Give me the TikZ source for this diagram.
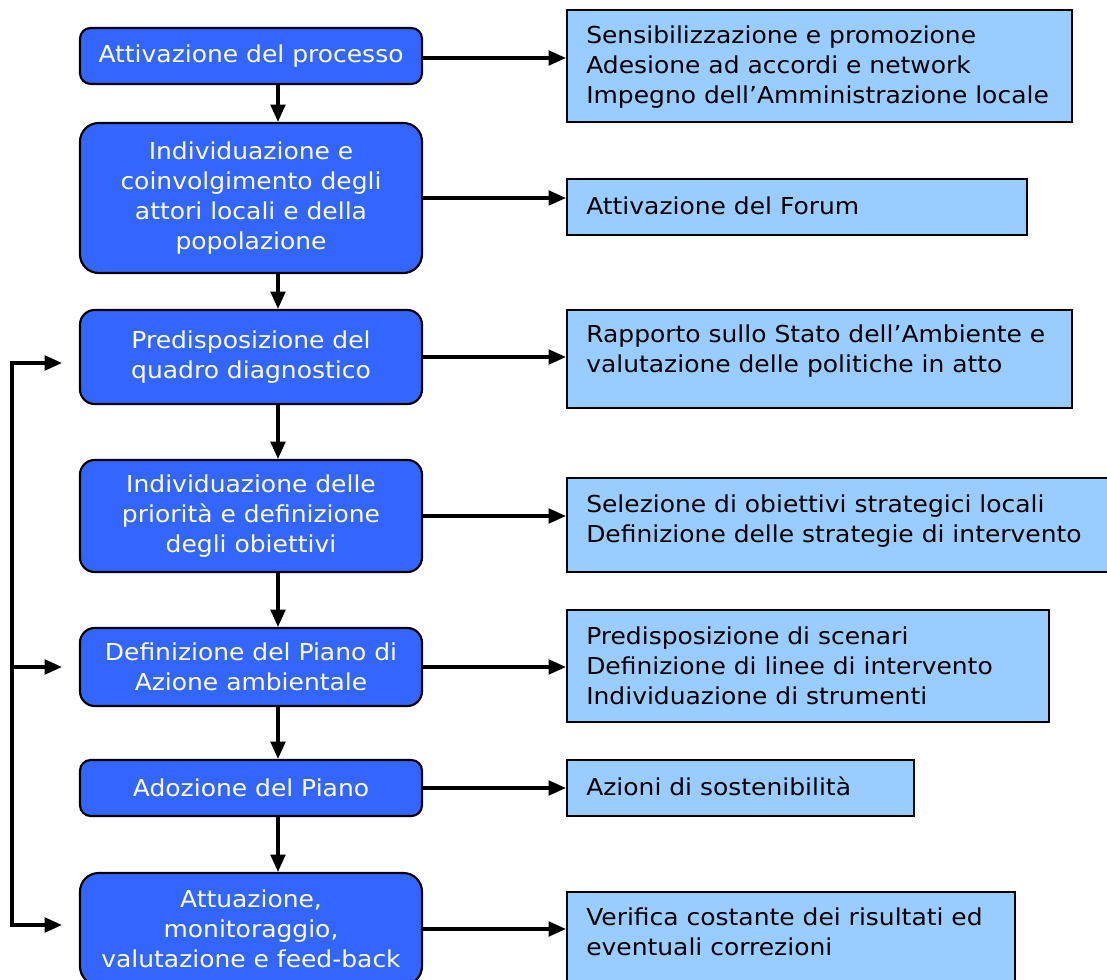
\documentclass[tikz,border=0pt]{standalone}
\usepackage{fontspec}
\setmainfont{DejaVu Sans}[FakeStretch=1.07]
\usetikzlibrary{arrows.meta}
\definecolor{dblue}{RGB}{51,102,255}
\definecolor{lblue}{RGB}{153,204,255}
\begin{document}
\begin{tikzpicture}[x=0.75pt,y=-0.75pt,
  txt/.style={font=\fontsize{17.5}{22.5}\selectfont},
  stepbox/.style={txt, draw=black, line width=1.6pt, fill=dblue, text=white, align=center,
    inner sep=0pt, minimum width=342*0.75pt, rounded corners=11pt},
  infobox/.style={draw=black, line width=1.6pt, fill=lblue, inner sep=0pt},
  infotext/.style={txt, anchor=west, align=left, inner sep=0pt, text=black},
  arr/.style={line width=2.4pt, -{Triangle[length=13pt,width=11pt]}},
  ln/.style={line width=2.4pt}]
\useasboundingbox (0,0) rectangle (1107,980);
\clip (0,0) rectangle (1107,980);
\fill[white] (0,0) rectangle (1107,980);

% left process boxes
\node[stepbox, minimum height=56*0.75pt, rounded corners=8pt] (p1) at (251,56) {Attivazione del processo};
\node[stepbox, minimum height=150*0.75pt, rounded corners=14pt] (p2) at (251,198) {Individuazione e\\coinvolgimento degli\\attori locali e della\\popolazione};
\node[stepbox, minimum height=94*0.75pt] (p3) at (251,357) {Predisposizione del\\quadro diagnostico};
\node[stepbox, minimum height=112*0.75pt] (p4) at (251,516) {Individuazione delle\\priorità e definizione\\degli obiettivi};
\node[stepbox, minimum height=78*0.75pt] (p5) at (251,667) {Definizione del Piano di\\Azione ambientale};
\node[stepbox, minimum height=56*0.75pt, rounded corners=8pt] (p6) at (251,788) {Adozione del Piano};
\node[stepbox, minimum height=112*0.75pt, rounded corners=14pt] (p7) at (251,929) {Attuazione,\\monitoraggio,\\valutazione e feed-back};

% right info boxes
\node[infobox, minimum width=505*0.75pt, minimum height=112*0.75pt] (r1) at (819.5,66) {};
\node[infobox, minimum width=460*0.75pt, minimum height=56*0.75pt] (r2) at (797,207) {};
\node[infobox, minimum width=505*0.75pt, minimum height=98*0.75pt] (r3) at (819.5,359) {};
\node[infobox, minimum width=560*0.75pt, minimum height=94*0.75pt] (r4) at (847,525) {};
\node[infobox, minimum width=482*0.75pt, minimum height=112*0.75pt] (r5) at (808,666) {};
\node[infobox, minimum width=347*0.75pt, minimum height=56*0.75pt] (r6) at (740.5,788) {};
\node[infobox, minimum width=448*0.75pt, minimum height=110*0.75pt] (r7) at (791,947) {};

\node[infotext] (t1) at (586,67) {Sensibilizzazione e promozione\\Adesione ad accordi e network\\Impegno dell’Amministrazione locale};
\node[infotext] (t2) at (586,206) {Attivazione del Forum};
\node[infotext] (t3) at (586,351) {Rapporto sullo Stato dell’Ambiente e\\valutazione delle politiche in atto};
\node[infotext] (t4) at (586,521) {Selezione di obiettivi strategici locali\\Definizione delle strategie di intervento};
\node[infotext] (t5) at (586,666) {Predisposizione di scenari\\Definizione di linee di intervento\\Individuazione di strumenti};
\node[infotext] (t6) at (586,786) {Azioni di sostenibilità};
\node[infotext] (t7) at (586,932) {Verifica costante dei risultati ed\\eventuali correzioni};

% horizontal connectors
\draw[arr] ([yshift=-1.5pt]p1.east) -- ([yshift=-1.5pt]p1.east -| r1.west);
\foreach \i in {2,...,7} {
  \draw[arr] (p\i.east) -- (p\i.east -| r\i.west);
}

% vertical connectors
\coordinate (vx) at (278,0);
\foreach \i/\j in {1/2,2/3,3/4,4/5,5/6,6/7} {
  \draw[arr] (p\i.south -| vx) -- (p\j.north -| vx);
}

% feedback loop
\coordinate (fbtop) at (12,363);
\coordinate (fbmid) at (12,667);
\coordinate (fbbot) at (12,925);
\coordinate (f3) at (62,363);
\coordinate (f5) at (62,667);
\coordinate (f7) at (62,925);
\draw[ln, line cap=rect] (fbtop) -- (fbbot);
\draw[arr] (fbtop) -- (f3);
\draw[arr] (fbmid) -- (f5);
\draw[arr] (fbbot) -- (f7);
\end{tikzpicture}
\end{document}
